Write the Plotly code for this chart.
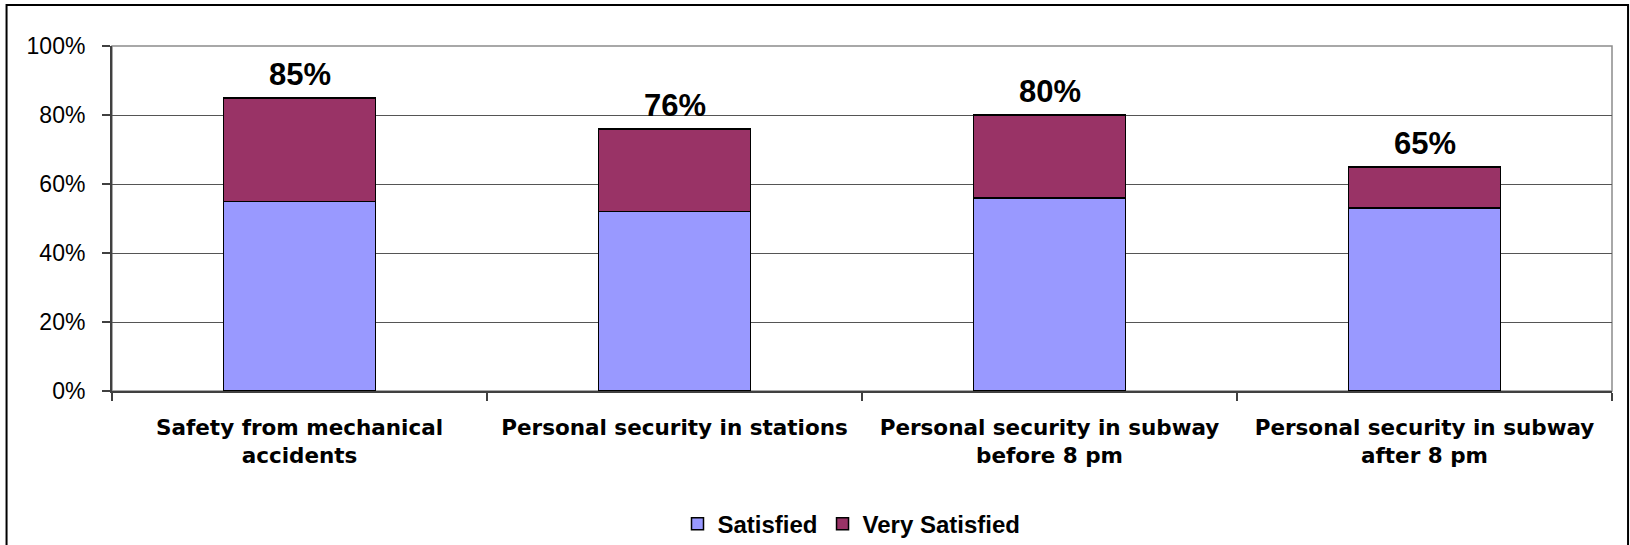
import plotly.graph_objects as go

categories = [
    "Safety from mechanical<br>accidents",
    "Personal security in stations",
    "Personal security in subway<br>before 8 pm",
    "Personal security in subway<br>after 8 pm",
]
satisfied = [55, 52, 56, 53]
very_satisfied = [30, 24, 24, 12]
total_labels = ["85%", "76%", "80%", "65%"]
y_ticks = [0, 20, 40, 60, 80, 100]
y_tick_labels = ["0%", "20%", "40%", "60%", "80%", "100%"]

totals = [a + b for a, b in zip(satisfied, very_satisfied)]

ARIAL = "Liberation Sans, Arial, sans-serif"

fig = go.Figure()
fig.add_trace(go.Bar(
    x=categories, y=satisfied, name="<b>Satisfied</b>",
    marker=dict(color="#9999FF", line=dict(color="#000000", width=1.5)),
))
fig.add_trace(go.Bar(
    x=categories, y=very_satisfied, name="<b>Very Satisfied</b>",
    marker=dict(color="#993366", line=dict(color="#000000", width=1.5)),
))

for c, t, lab in zip(categories, totals, total_labels):
    fig.add_annotation(
        x=c, y=t, xref="x", yref="y", text=lab, showarrow=False,
        yanchor="bottom", yshift=4,
        font=dict(family=ARIAL, size=31, color="#000000", weight="bold"),
    )

# plot-area frame (top/right gray)
fig.add_shape(type="rect", xref="paper", yref="paper", x0=0, x1=1, y0=0, y1=1,
              line=dict(color="#8c8c8c", width=1.5), layer="below")
# outer chart border
fig.add_shape(type="rect", xref="paper", yref="paper",
              x0=-0.0703, x1=1.0107, y0=-0.8, y1=1.1188,
              line=dict(color="#000000", width=2))

fig.update_layout(
    width=1630, height=545,
    barmode="stack", bargap=0.595,
    plot_bgcolor="#ffffff", paper_bgcolor="#ffffff",
    margin=dict(l=112, r=18, t=46, b=154, autoexpand=False),
    showlegend=True,
    legend=dict(
        orientation="h", x=0.493, xanchor="center", y=-0.386, yanchor="middle",
        traceorder="normal",
        font=dict(family=ARIAL, size=24, color="#000000", weight="bold"),
        itemwidth=30,
    ),
    xaxis=dict(
        showgrid=False, tickson="boundaries", ticks="outside", ticklen=8,
        tickcolor="#404040", tickwidth=1.5, automargin=False,
        showline=True, linecolor="#404040", linewidth=2,
        tickfont=dict(family="DejaVu Sans, sans-serif", size=21.5, color="#000000", weight="bold"),
        ticklabelstandoff=16,
    ),
    yaxis=dict(
        range=[0, 100], tickvals=y_ticks, ticktext=y_tick_labels,
        showgrid=True, gridcolor="#555555", gridwidth=1, automargin=False,
        ticks="outside", ticklen=8, tickcolor="#404040", tickwidth=1.5,
        showline=True, linecolor="#404040", linewidth=2,
        tickfont=dict(family=ARIAL, size=23, color="#000000"),
        ticklabelstandoff=12, zeroline=False,
    ),
)

fig.write_html("out.html")
